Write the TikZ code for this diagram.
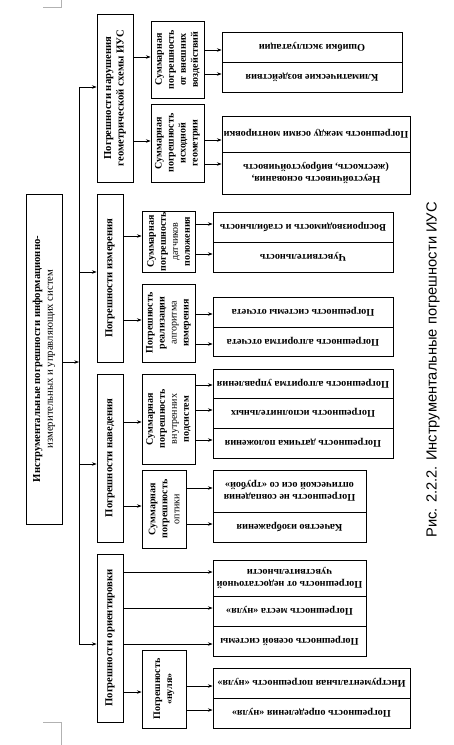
\documentclass[tikz,border=0pt]{standalone}
\usepackage{fontspec}
\setmainfont{Liberation Serif}
\newfontfamily\capfont{Liberation Sans}
\usetikzlibrary{arrows.meta}
\newcommand\VertBox[7]{\node[#1, minimum width={(#6-#4)*0.75pt}, minimum height={(#5-#3)*0.75pt}] (#2) at ({(#3+#5)/2},{(#4+#6)/2}) {#7};}
\newcommand\HorBox[7]{\node[#1, minimum width={(#5-#3)*0.75pt}, minimum height={(#6-#4)*0.75pt}] (#2) at ({(#3+#5)/2},{(#4+#6)/2}) {#7};}
\begin{document}
\begin{tikzpicture}[x=0.75pt,y=-0.75pt,
  box/.style={draw, line width=0.6pt, inner sep=0pt, align=center},
  mainbox/.style={box, rotate=90, font=\bfseries\fontsize{8}{9.5}\selectfont},
  subbox/.style={box, rotate=90, font=\bfseries\fontsize{7.5}{9}\selectfont},
  leafbox/.style={box, rotate=180, font=\bfseries\fontsize{7.7}{8.8}\selectfont},
  arr/.style={-{Stealth[length=3.5pt,width=2.6pt]}, line width=0.5pt},
  crop/.style={draw=gray!60, line width=0.6pt}]
\useasboundingbox (0,0) rectangle (453,745);
% crop marks
\draw[crop] (43,7) -- (61,7) -- (61,0);
\draw[crop] (43,722) -- (61,722) -- (61,745);
% root
\VertBox{mainbox}{root}{26}{194}{62}{524}{Инструментальные погрешности информационно-\\{\mdseries\fontsize{8}{9}\selectfont измерительных и управляющих систем}}
% main boxes
\VertBox{mainbox}{m1}{97}{14}{133}{182}{Погрешности нарушения\\геометрической схемы ИУС}
\VertBox{mainbox}{m2}{97}{194}{123}{362}{Погрешности измерения}
\VertBox{mainbox}{m3}{97}{374}{123}{542}{Погрешности наведения}
\VertBox{mainbox}{m4}{97}{554}{123}{722}{Погрешности ориентировки}
% second level
\VertBox{subbox}{a1}{151}{21}{204}{98}{Суммарная\\погрешность\\от внешних\\воздействий}
\VertBox{subbox}{a2}{151}{104}{204}{182}{Суммарная\\погрешность\\исходной\\геометрии}
\VertBox{subbox}{b1}{142}{211}{195}{272}{Суммарная\\погрешность\\{\mdseries датчиков}\\положения}
\VertBox{subbox}{b2}{142}{284}{195}{362}{Погрешность\\реализации\\{\mdseries алгоритма}\\измерения}
\VertBox{subbox}{c1}{142}{374}{195}{464}{Суммарная\\погрешность\\{\mdseries внутренних}\\подсистем}
\VertBox{subbox}{c2}{142}{470}{186}{548}{Суммарная\\погрешность\\{\mdseries оптики}}
\VertBox{subbox}{d2}{142}{650}{186}{728}{Погрешность\\«нуля»}
% leaves
\HorBox{leafbox}{la1}{222}{32}{402}{62}{Ошибки эксплуатации}
\HorBox{leafbox}{la2}{222}{62}{402}{92}{Климатические воздействия}
\HorBox{leafbox}{lb1}{222}{116}{410}{152}{Погрешность между осями монтировки}
\HorBox{leafbox}{lb2}{222}{152}{410}{194}{Неустойчивость основания,\\(жесткость, виброустойчивость}
\HorBox{leafbox}{lc1}{213}{212}{393}{242}{Воспроизводимость и стабильность}
\HorBox{leafbox}{lc2}{213}{242}{393}{272}{Чувствительность}
\HorBox{leafbox}{ld1}{213}{297}{393}{327}{Погрешность системы отсчета}
\HorBox{leafbox}{ld2}{213}{327}{393}{356}{Погрешность алгоритма отсчета}
\HorBox{leafbox}{le1}{213}{369}{393}{398}{Погрешность алгоритма управления}
\HorBox{leafbox}{le2}{213}{398}{393}{428}{Погрешность исполнительных}
\HorBox{leafbox}{le3}{213}{428}{393}{458}{Погрешность датчика положения}
\HorBox{leafbox}{lf1}{213}{470}{366}{512}{Погрешность не совпадения\\оптической оси со «трубой»}
\HorBox{leafbox}{lf2}{213}{512}{366}{542}{Качество изображения}
\HorBox{leafbox}{lg1}{213}{560}{366}{596}{Погрешность от недостаточной\\чувствительности}
\HorBox{leafbox}{lg2}{213}{596}{366}{626}{Погрешность места «нуля»}
\HorBox{leafbox}{lg3}{213}{626}{366}{656}{Погрешность осевой системы}
\HorBox{leafbox}{lh1}{213}{668}{410}{698}{Инструментальная погрешность «нуля»}
\HorBox{leafbox}{lh2}{213}{698}{410}{728}{Погрешность определения «нуля»}
% caption
\node[font=\capfont\fontsize{11}{12}\selectfont, rotate=90] (cap) at (433,370) {Рис. 2.2.2. Инструментальные погрешности ИУС};
% bus
\coordinate (bt) at (79,87);
\coordinate (bb) at (79,644);
\draw[line width=0.6pt] (bt) -- (bb);
\draw[arr] (root.south |- 0,362) -- (bt |- 0,362);
\draw[arr] (bt) -- (m1.north |- bt);
\draw[arr] (bt |- 0,272) -- (m2.north |- 0,272);
\draw[arr] (bt |- 0,464) -- (m3.north |- 0,464);
\draw[arr] (bb) -- (m4.north |- bb);
% main -> sub
\draw[arr] (m1.south |- 0,57) -- (a1.north |- 0,57);
\draw[arr] (m1.south |- 0,141) -- (a2.north |- 0,141);
\draw[arr] (m2.south |- 0,236) -- (b1.north |- 0,236);
\draw[arr] (m2.south |- 0,320) -- (b2.north |- 0,320);
\draw[arr] (m3.south |- 0,422) -- (c1.north |- 0,422);
\draw[arr] (m3.south |- 0,506) -- (c2.north |- 0,506);
\draw[arr] (m4.south |- 0,692) -- (d2.north |- 0,692);
\draw[arr] (m4.south |- 0,572) -- (lg1.east |- 0,572);
\draw[arr] (m4.south |- 0,608) -- (lg2.east |- 0,608);
\draw[arr] (m4.south |- 0,644) -- (lg3.east |- 0,644);
% sub -> leaves
\draw[arr] (a1.south |- 0,50) -- (la1.east |- 0,50);
\draw[arr] (a1.south |- 0,74) -- (la2.east |- 0,74);
\draw[arr] (a2.south |- 0,140) -- (lb1.east |- 0,140);
\draw[arr] (a2.south |- 0,164) -- (lb2.east |- 0,164);
\draw[arr] (b1.south |- 0,224) -- (lc1.east |- 0,224);
\draw[arr] (b1.south |- 0,254) -- (lc2.east |- 0,254);
\draw[arr] (b2.south |- 0,314) -- (ld1.east |- 0,314);
\draw[arr] (b2.south |- 0,344) -- (ld2.east |- 0,344);
\draw[arr] (c1.south |- 0,385) -- (le1.east |- 0,385);
\draw[arr] (c1.south |- 0,410) -- (le2.east |- 0,410);
\draw[arr] (c1.south |- 0,440) -- (le3.east |- 0,440);
\draw[arr] (c2.south |- 0,488) -- (lf1.east |- 0,488);
\draw[arr] (c2.south |- 0,524) -- (lf2.east |- 0,524);
\draw[arr] (d2.south |- 0,686) -- (lh1.east |- 0,686);
\draw[arr] (d2.south |- 0,710) -- (lh2.east |- 0,710);
\end{tikzpicture}
\end{document}
